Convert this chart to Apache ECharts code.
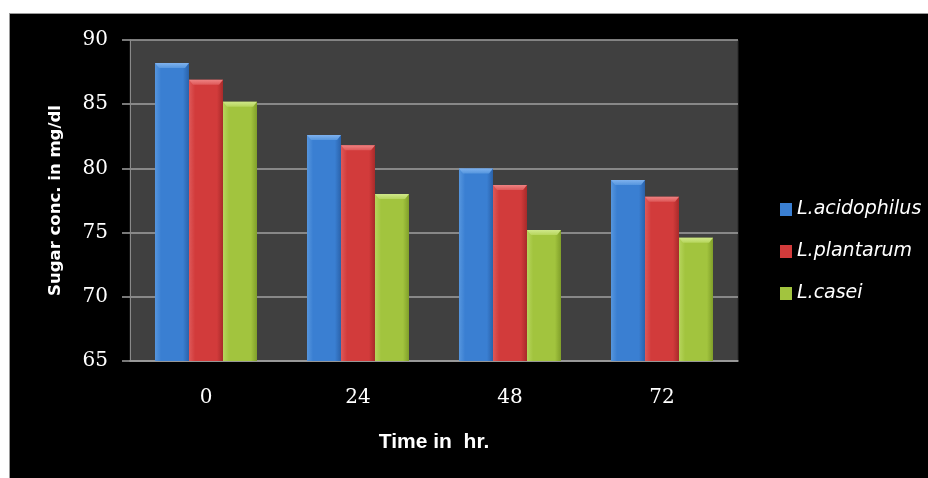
<!DOCTYPE html>
<html>
<head>
<meta charset="utf-8">
<script src="https://cdn.jsdelivr.net/npm/echarts@6/dist/echarts.min.js"></script>
<style>
  html, body { margin: 0; padding: 0; background: #ffffff; }
  #frame { position: absolute; left: 9px; top: 13px; width: 919px; height: 465px;
           background: #000000; border-top: 1px solid #9a9a9a; border-left: 1px solid #9a9a9a; box-sizing: border-box; }
  #chart { position: absolute; left: 0; top: 0; width: 928px; height: 478px; }
</style>
</head>
<body>
<div id="frame"></div>
<div id="chart"></div>
<script>
// Sampling times (hours)
const times = ['0', '24', '48', '72'];

// Sugar concentration (mg/dl) per strain
const acidophilus = [88.2, 82.6, 80.0, 79.1];
const plantarum   = [86.9, 81.8, 78.7, 77.8];
const casei       = [85.2, 78.0, 75.2, 74.6];

const seriesNames = ['L.acidophilus', 'L.plantarum', 'L.casei'];

// y axis ticks
const yMin = 65, yMax = 90, yStep = 5;

const values = [acidophilus, plantarum, casei];

// shading for the bevelled bars
const palette = [
  { edge: '#2a62aa', mid: '#3a7fd2', light: '#5696de', top: '#7fb2ee' },
  { edge: '#a82a2a', mid: '#d23b3b', light: '#de5858', top: '#ee8282' },
  { edge: '#809f2a', mid: '#a2c43e', light: '#b6d55c', top: '#d0e88a' }
];

// share of the category band taken by one bar
const barShare = 0.2237;

function bevelBar(seriesIndex) {
  const pal = palette[seriesIndex];
  return function (params, api) {
    const cat = api.value(0);
    const val = api.value(1);
    const band = api.size([1, 0])[0];
    const w = band * barShare;
    const center = api.coord([cat, val]);
    const base = api.coord([cat, yMin])[1];
    const x = center[0] + (seriesIndex - 1.5) * w;
    const top = center[1];
    const h = base - top;
    const bev = Math.min(5, h);
    const fill = new echarts.graphic.LinearGradient(0, 0, 1, 0, [
      { offset: 0, color: pal.light },
      { offset: 0.18, color: pal.mid },
      { offset: 0.82, color: pal.mid },
      { offset: 1, color: pal.edge }
    ]);
    return {
      type: 'group',
      children: [
        { type: 'rect', shape: { x: x, y: top, width: w, height: h }, style: { fill: fill } },
        {
          type: 'polygon',
          shape: { points: [[x, top], [x + w, top], [x + w - 4, top + bev], [x + 4, top + bev]] },
          style: {
            fill: new echarts.graphic.LinearGradient(0, 0, 0, 1, [
              { offset: 0, color: pal.top },
              { offset: 1, color: pal.light }
            ])
          }
        }
      ]
    };
  };
}

const chart = echarts.init(document.getElementById('chart'), null, { renderer: 'canvas' });

chart.setOption({
  backgroundColor: 'transparent',
  animation: false,
  grid: {
    left: 130, right: 190, top: 40, bottom: 117,
    show: true, backgroundColor: '#404040', borderColor: '#2a2a2a', borderWidth: 1
  },
  legend: {
    orient: 'vertical',
    left: 775, top: 195,
    itemWidth: 12, itemHeight: 13, itemGap: 23,
    icon: 'rect',
    textStyle: { color: '#ffffff', fontFamily: 'DejaVu Sans', fontStyle: 'italic', fontSize: 19 },
    data: seriesNames
  },
  xAxis: {
    type: 'category',
    data: times,
    name: 'Time in  hr.',
    nameLocation: 'middle',
    nameGap: 71,
    nameTextStyle: { color: '#ffffff', fontFamily: 'Liberation Sans', fontWeight: 'bold', fontSize: 21 },
    axisLine: { show: true, lineStyle: { color: '#a0a0a0', width: 1.5 } },
    axisTick: { show: false },
    axisLabel: { color: '#ffffff', fontFamily: 'DejaVu Serif', fontSize: 20, margin: 27 },
    splitLine: { show: false }
  },
  yAxis: {
    type: 'value',
    min: yMin, max: yMax, interval: yStep,
    name: 'Sugar conc. in mg/dl',
    nameLocation: 'middle',
    nameGap: 66,
    nameTextStyle: { color: '#ffffff', fontFamily: 'DejaVu Sans', fontWeight: 'bold', fontSize: 16.5 },
    axisLine: { show: true, lineStyle: { color: '#8a8a8a', width: 1 } },
    axisTick: { show: true, length: 8, lineStyle: { color: '#a0a0a0', width: 1.5 } },
    axisLabel: { color: '#ffffff', fontFamily: 'DejaVu Serif', fontSize: 20, margin: 22 },
    splitLine: { show: true, lineStyle: { color: '#a0a0a0', width: 1.5 } }
  },
  series: seriesNames.map((name, i) => ({
    name: name,
    type: 'custom',
    renderItem: bevelBar(i),
    encode: { x: 0, y: 1 },
    itemStyle: { color: palette[i].mid },
    data: values[i].map((v, k) => [k, v])
  }))
});
</script>
</body>
</html>
